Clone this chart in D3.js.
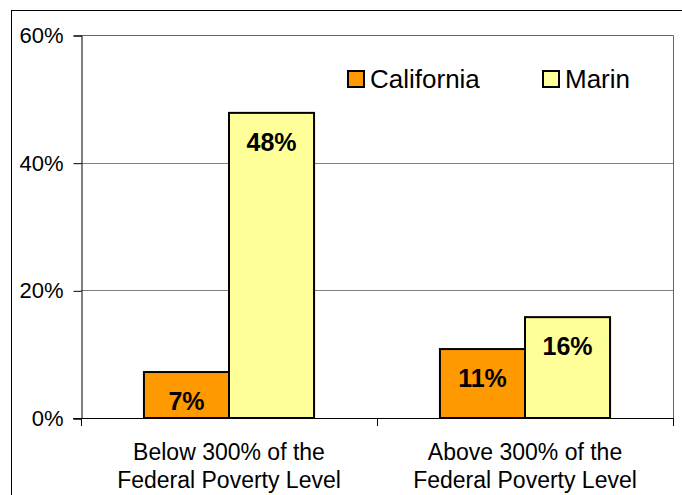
<!DOCTYPE html>
<html>
<head>
<meta charset="utf-8">
<script src="https://cdn.jsdelivr.net/npm/d3@7"></script>
<style>
  body { margin: 0; background: #fff; }
  svg { display: block; font-family: "Liberation Sans", Arial, sans-serif; }
</style>
</head>
<body>
<script>
// data
var groups = ["Below 300% of the|Federal Poverty Level", "Above 300% of the|Federal Poverty Level"];
var seriesNames = ["California", "Marin"];
var california = [0.072, 0.108];
var marin = [0.478, 0.158];
var yTicks = [0, 0.2, 0.4, 0.6];

var colors = ["#FF9900", "#FFFF99"];

var w = 682, h = 495;
var plot = {left: 81, top: 35, right: 673, bottom: 418};

var svg = d3.select("body").append("svg")
  .attr("width", w)
  .attr("height", h);

// outer chart frame (runs off the picture to the right and bottom)
svg.append("rect")
  .attr("x", 11.5).attr("y", 10.5)
  .attr("width", 700).attr("height", 520)
  .attr("fill", "#fff")
  .attr("stroke", "#000")
  .attr("stroke-width", 1);

var y = d3.scaleLinear().domain([0, 0.6]).range([plot.bottom, plot.top]);
var x0 = d3.scaleBand().domain(d3.range(groups.length)).range([plot.left, plot.right]);
var x1 = d3.scaleBand().domain(d3.range(seriesNames.length))
  .range([0, x0.bandwidth()]).paddingOuter(0.74);

// gridlines
svg.append("g").selectAll("line")
  .data(yTicks.filter(function(d){ return d > 0 && d < 0.6; }))
  .enter().append("line")
  .attr("x1", plot.left).attr("x2", plot.right)
  .attr("y1", function(d){ return Math.round(y(d)) + 0.5; })
  .attr("y2", function(d){ return Math.round(y(d)) + 0.5; })
  .attr("stroke", "#808080");

// plot area top + right border
svg.append("path")
  .attr("d", "M" + plot.left + "," + (plot.top + 0.5) + " H" + (plot.right + 0.5) + " V" + plot.bottom)
  .attr("fill", "none")
  .attr("stroke", "#666");

// y axis
var yAxis = d3.axisLeft(y).tickValues(yTicks).tickFormat(d3.format(".0%")).tickSize(8).tickPadding(10);
var gy = svg.append("g").attr("transform", "translate(" + (plot.left + 0.5) + ",0.5)").call(yAxis);
gy.select(".domain").attr("stroke", "#000");
gy.selectAll(".tick line").attr("stroke", "#000");
gy.selectAll(".tick text").attr("font-size", "22px").attr("fill", "#000")
  .attr("font-family", "Liberation Sans, Arial, sans-serif");

// bars
var data = [california, marin];
var gGroups = svg.append("g").selectAll("g")
  .data(groups)
  .enter().append("g")
  .attr("transform", function(d, i){ return "translate(" + x0(i) + ",0)"; });

gGroups.selectAll("rect")
  .data(function(d, i){ return data.map(function(s, j){ return {s: j, v: s[i]}; }); })
  .enter().append("rect")
  .attr("x", function(d){ return x1(d.s); })
  .attr("y", function(d){ return y(d.v); })
  .attr("width", x1.bandwidth())
  .attr("height", function(d){ return y(0) - y(d.v); })
  .attr("fill", function(d){ return colors[d.s]; })
  .attr("stroke", "#000")
  .attr("stroke-width", 2);

gGroups.selectAll("text.val")
  .data(function(d, i){ return data.map(function(s, j){ return {s: j, v: s[i]}; }); })
  .enter().append("text")
  .attr("class", "val")
  .attr("x", function(d){ return x1(d.s) + x1.bandwidth() / 2; })
  .attr("y", function(d){ return y(d.v) + 38; })
  .attr("text-anchor", "middle")
  .attr("font-size", "25px")
  .attr("font-weight", "bold")
  .text(function(d){ return Math.round(d.v * 100) + "%"; });

// x axis
svg.append("line")
  .attr("x1", plot.left - 8).attr("x2", plot.right + 1)
  .attr("y1", plot.bottom + 0.5).attr("y2", plot.bottom + 0.5)
  .attr("stroke", "#000");
svg.append("g").selectAll("line")
  .data([plot.left, x0(1), plot.right])
  .enter().append("line")
  .attr("x1", function(d){ return d + 0.5; }).attr("x2", function(d){ return d + 0.5; })
  .attr("y1", plot.bottom).attr("y2", plot.bottom + 8)
  .attr("stroke", "#000");

var cat = svg.append("g").selectAll("text")
  .data(groups)
  .enter().append("text")
  .attr("x", function(d, i){ return x0(i) + x0.bandwidth() / 2; })
  .attr("y", 460)
  .attr("text-anchor", "middle")
  .attr("font-size", "23px");
cat.selectAll("tspan")
  .data(function(d){ return d.split("|"); })
  .enter().append("tspan")
  .attr("x", function(){ return d3.select(this.parentNode).attr("x"); })
  .attr("dy", function(d, i){ return i ? 28 : 0; })
  .text(function(d){ return d; });

// legend
var legendX = [348, 543];
var lg = svg.append("g").selectAll("g")
  .data(seriesNames)
  .enter().append("g")
  .attr("transform", function(d, i){ return "translate(" + legendX[i] + ",71)"; });
lg.append("rect")
  .attr("width", 16).attr("height", 16)
  .attr("fill", function(d, i){ return colors[i]; })
  .attr("stroke", "#000").attr("stroke-width", 2);
lg.append("text")
  .attr("x", 22).attr("y", 17)
  .attr("font-size", "26px")
  .text(function(d){ return d; });
</script>
</body>
</html>
